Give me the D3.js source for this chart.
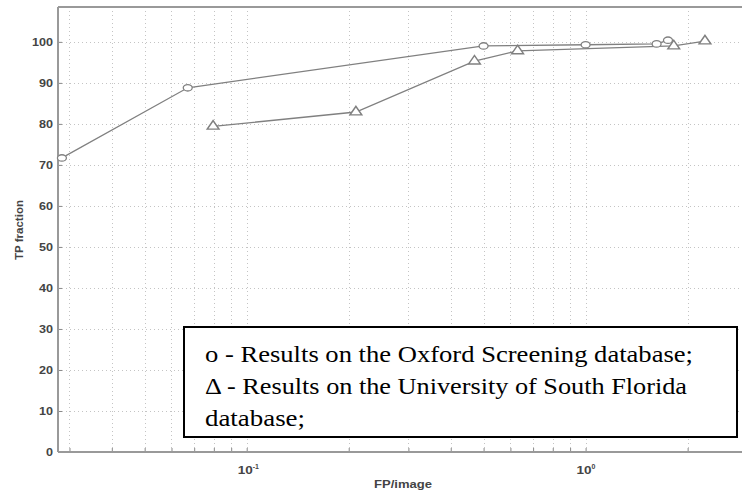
<!DOCTYPE html>
<html>
  <head>
    <script src="https://d3js.org/d3.v7.min.js"></script>
    <style>
      body { margin: 0; background: #fff; }
      .tick text { font-family: "Liberation Sans", Arial, sans-serif; }
    </style>
  </head>
  <body>
    <script>

    // Oxford Screening database (circles)
    const oxfordFP = [0.0285, 0.067, 0.50, 1.0, 1.62, 1.75];
    const oxfordTP = [71.7, 88.8, 99.0, 99.3, 99.5, 100.4];

    // University of South Florida database (triangles)
    const usfFP = [0.0796, 0.21, 0.47, 0.63, 1.82, 2.25];
    const usfTP = [79.4, 82.9, 95.3, 97.8, 99.0, 100.2];

    const yTicks = [0, 10, 20, 30, 40, 50, 60, 70, 80, 90, 100];
    const xMajor = [0.1, 1];
    const xMinor = [0.03, 0.04, 0.05, 0.06, 0.07, 0.08, 0.09,
                    0.2, 0.3, 0.4, 0.5, 0.6, 0.7, 0.8, 0.9, 2, 3];

    const legendLines = [
      "o - Results on the Oxford Screening database;",
      "\u0394 - Results on the University of South Florida",
      "database;"
    ];
    const legendWidths = [488, 482, 100];

    const width = 742, height = 495;
    const plotLeft = 58, plotTop = 7, plotBottom = 452;

    const x = d3.scaleLog().domain([0.02775, 3.5]).range([plotLeft, 770]);
    const y = d3.scaleLinear().domain([0, 108.5]).range([plotBottom, plotTop]);

    const svg = d3.select("body").append("svg")
        .attr("width", width)
        .attr("height", height);

    // grid
    const grid = svg.append("g")
        .attr("stroke", "#c4c4c4")
        .attr("stroke-width", 1)
        .attr("stroke-dasharray", "1,3");

    grid.selectAll("line.gx")
      .data(xMajor.concat(xMinor))
      .enter().append("line")
        .attr("x1", d => Math.round(x(d)) + 0.5)
        .attr("x2", d => Math.round(x(d)) + 0.5)
        .attr("y1", plotTop)
        .attr("y2", plotBottom);

    grid.selectAll("line.gy")
      .data(yTicks.filter(d => d > 0))
      .enter().append("line")
        .attr("x1", plotLeft)
        .attr("x2", width)
        .attr("y1", d => Math.round(y(d)) + 0.5)
        .attr("y2", d => Math.round(y(d)) + 0.5);

    // axes
    const yAxis = svg.append("g")
        .attr("transform", `translate(${plotLeft},0)`)
        .call(d3.axisLeft(y).tickValues(yTicks).tickSizeInner(-4).tickSizeOuter(0).tickPadding(5));

    yAxis.select(".domain").remove();
    yAxis.selectAll(".tick line").attr("stroke", "#888");
    yAxis.selectAll(".tick text")
        .attr("fill", "#444")
        .attr("textLength", d => String(d).length * 7)
        .attr("lengthAdjust", "spacingAndGlyphs")
        .style("font-size", "10px")
        .style("font-weight", "bold");

    const xAxis = svg.append("g")
        .attr("transform", `translate(0,${plotBottom})`)
        .call(d3.axisBottom(x).tickValues(xMajor.concat(xMinor)).tickSizeInner(-4).tickSizeOuter(0).tickFormat(""));
    xAxis.select(".domain").remove();
    xAxis.selectAll(".tick line").attr("stroke", "#888");

    // 10^n labels
    const xl = svg.append("g")
        .attr("fill", "#444")
        .style("font-family", "'Liberation Sans', Arial, sans-serif")
        .style("font-weight", "bold");
    xMajor.forEach(v => {
      const p = Math.round(Math.log10(v));
      xl.append("text")
          .attr("x", x(v) - 9)
          .attr("y", plotBottom + 22)
          .attr("textLength", 15)
          .attr("lengthAdjust", "spacingAndGlyphs")
          .style("font-size", "10px")
          .text("10");
      xl.append("text")
          .attr("x", x(v) + 6)
          .attr("y", plotBottom + 17)
          .style("font-size", "7px")
          .text(String(p));
    });

    // frame
    svg.append("line")
        .attr("x1", plotLeft).attr("x2", width).attr("y1", plotTop).attr("y2", plotTop)
        .attr("stroke", "#999").attr("stroke-width", 2);
    svg.append("line")
        .attr("x1", plotLeft).attr("x2", plotLeft).attr("y1", plotTop).attr("y2", plotBottom)
        .attr("stroke", "#999").attr("stroke-width", 2);
    svg.append("line")
        .attr("x1", plotLeft).attr("x2", width).attr("y1", plotBottom).attr("y2", plotBottom)
        .attr("stroke", "#999").attr("stroke-width", 2);

    // axis titles
    svg.append("text")
        .attr("x", 403)
        .attr("y", 488)
        .attr("text-anchor", "middle")
        .attr("fill", "#444")
        .attr("textLength", 58)
        .attr("lengthAdjust", "spacingAndGlyphs")
        .style("font-family", "'Liberation Sans', Arial, sans-serif")
        .style("font-size", "10px")
        .style("font-weight", "bold")
        .text("FP/image");

    svg.append("text")
        .attr("transform", "translate(23,230) rotate(-90)")
        .attr("text-anchor", "middle")
        .attr("fill", "#444")
        .attr("textLength", 60)
        .attr("lengthAdjust", "spacingAndGlyphs")
        .style("font-family", "'Liberation Sans', Arial, sans-serif")
        .style("font-size", "10px")
        .style("font-weight", "bold")
        .text("TP fraction");

    // series
    const line = d3.line().x(d => x(d[0])).y(d => y(d[1]));
    const oxford = oxfordFP.map((v, i) => [v, oxfordTP[i]]);
    const usf = usfFP.map((v, i) => [v, usfTP[i]]);

    const plot = svg.append("g")
        .attr("fill", "none")
        .attr("stroke", "#808080")
        .attr("stroke-width", 1.3);

    plot.append("path").attr("d", line(oxford));
    plot.append("path").attr("d", line(usf));

    plot.selectAll("ellipse")
      .data(oxford)
      .enter().append("ellipse")
        .attr("cx", d => x(d[0]))
        .attr("cy", d => y(d[1]))
        .attr("rx", 4.5)
        .attr("ry", 3.2)
        .attr("fill", "#fff");

    const tri = d3.symbol().type(d3.symbolTriangle).size(42);
    plot.selectAll("path.tri")
      .data(usf)
      .enter().append("path")
        .attr("class", "tri")
        .attr("transform", d => `translate(${x(d[0])},${y(d[1])}) scale(1.2,1)`)
        .attr("d", tri)
        .attr("fill", "#fff");

    // legend box
    svg.append("rect")
        .attr("x", 184)
        .attr("y", 327)
        .attr("width", 553)
        .attr("height", 110)
        .attr("fill", "#fff")
        .attr("stroke", "#000")
        .attr("stroke-width", 2);

    svg.append("g")
        .style("font-family", "'Liberation Serif', 'Times New Roman', serif")
        .style("font-size", "24px")
        .attr("fill", "#000")
      .selectAll("text")
      .data(legendLines)
      .enter().append("text")
        .attr("x", 205)
        .attr("y", (d, i) => 362 + i * 32)
        .attr("textLength", (d, i) => legendWidths[i])
        .attr("lengthAdjust", "spacingAndGlyphs")
        .text(d => d);

    </script>
  </body>
</html>
